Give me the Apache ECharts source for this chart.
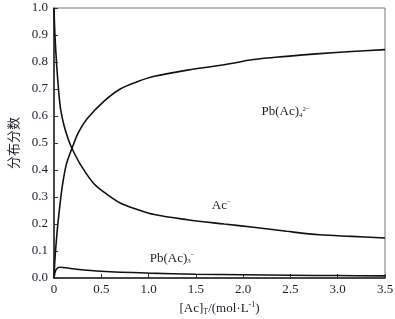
<!DOCTYPE html>
<html><head><meta charset="utf-8">
<script src="https://cdn.jsdelivr.net/npm/echarts@6/dist/echarts.min.js"></script>
<style>html,body{margin:0;padding:0;background:#fff}#c{width:395px;height:319px}</style>
</head><body><div id="c"></div>
<script>
const xTicks = [0, 0.5, 1.0, 1.5, 2.0, 2.5, 3.0, 3.5];
const yTicks = [0, 0.1, 0.2, 0.3, 0.4, 0.5, 0.6, 0.7, 0.8, 0.9, 1.0];
const acX = [0, 0.01, 0.028, 0.05, 0.07, 0.106, 0.15, 0.19, 0.28, 0.42, 0.56, 0.70, 0.88, 1.06, 1.41, 1.80, 2.11, 2.46, 2.81, 3.15, 3.5];
const acY = [1.0, 0.90, 0.79, 0.69, 0.625, 0.565, 0.515, 0.48, 0.42, 0.35, 0.31, 0.278, 0.254, 0.235, 0.216, 0.200, 0.188, 0.173, 0.160, 0.154, 0.148];
const pb4X = [0, 0.01, 0.03, 0.053, 0.088, 0.13, 0.19, 0.26, 0.35, 0.53, 0.70, 0.88, 1.06, 1.41, 1.80, 2.11, 2.46, 2.81, 3.15, 3.5];
const pb4Y = [0, 0.07, 0.16, 0.24, 0.34, 0.42, 0.48, 0.54, 0.59, 0.655, 0.70, 0.727, 0.747, 0.77, 0.79, 0.809, 0.821, 0.831, 0.839, 0.846];
const pb3X = [0, 0.02, 0.06, 0.2, 0.5, 1.0, 1.5, 2.0, 2.5, 3.0, 3.5];
const pb3Y = [0, 0.03, 0.04, 0.034, 0.025, 0.018, 0.014, 0.012, 0.010, 0.009, 0.008];

const zip = (a, b) => a.map((v, i) => [v, b[i]]);
const serif = '"Liberation Serif","DejaVu Serif",serif';
const txt = '#1c1c2c';
const rich = {
  b: {fontFamily: serif, fontSize: 13, color: txt},
  sub: {fontFamily: serif, fontSize: 7, color: txt, verticalAlign: 'bottom', padding: [6, 0, 0, 0]},
  sup: {fontFamily: serif, fontSize: 7, color: txt, verticalAlign: 'top', padding: [0, 0, 6, 0]}
};
function lbl(x, y, text) {
  return {coord: [x, y], symbol: 'circle', symbolSize: 1, itemStyle: {color: 'rgba(0,0,0,0)'},
    label: {show: true, position: 'inside', formatter: text, rich: rich}};
}
const lineStyle = {color: '#111', width: 1.6};
const chart = echarts.init(document.getElementById('c'));
chart.setOption({
  animation: false,
  grid: {left: 54, right: 10, top: 8, bottom: 41, show: true, borderColor: '#777', borderWidth: 1,
    containLabel: false, outerBoundsMode: 'none'},
  xAxis: {
    type: 'value', min: 0, max: 3.5, interval: 0.5,
    axisLine: {show: true, lineStyle: {color: '#222', width: 1.5}},
    axisTick: {show: true, inside: true, length: 4, lineStyle: {color: '#333'}},
    splitLine: {show: false},
    axisLabel: {fontFamily: serif, fontSize: 13, color: txt, margin: 5,
      formatter: v => v === 0 ? '0' : v.toFixed(1)},
    name: '{b|[Ac]}{sub|T}{b|/(mol·L}{sup|-1}{b|)}',
    nameLocation: 'middle', nameGap: 22,
    nameTextStyle: {rich: {
      b: {fontFamily: serif, fontSize: 13, color: txt},
      sub: {fontFamily: serif, fontSize: 8, color: txt, verticalAlign: 'bottom', padding: [7, 0, 0, 0]},
      sup: {fontFamily: serif, fontSize: 8, color: txt, verticalAlign: 'top', padding: [0, 0, 7, 0]}
    }}
  },
  yAxis: {
    type: 'value', min: 0, max: 1.0, interval: 0.1,
    axisLine: {show: true, lineStyle: {color: '#222', width: 1.5}},
    axisTick: {show: true, inside: true, length: 4, lineStyle: {color: '#333'}},
    splitLine: {show: false},
    axisLabel: {fontFamily: serif, fontSize: 13, color: txt, margin: 6, formatter: v => v.toFixed(1)},
    name: '分布分数', nameLocation: 'middle', nameGap: 34,
    nameTextStyle: {fontFamily: '"Noto Sans CJK SC"', fontSize: 13, color: txt}
  },
  series: [
    {type: 'line', data: zip(acX, acY), smooth: 0.35, showSymbol: false, lineStyle: lineStyle,
     markPoint: {data: [lbl(1.77, 0.268, '{b|Ac}{sup|−}')]}},
    {type: 'line', data: zip(pb4X, pb4Y), smooth: 0.35, showSymbol: false, lineStyle: lineStyle,
     markPoint: {data: [lbl(2.45, 0.615, '{b|Pb(Ac)}{sub|4}{sup|2−}')]}},
    {type: 'line', data: zip(pb3X, pb3Y), smooth: 0.35, showSymbol: false, lineStyle: lineStyle,
     markPoint: {data: [lbl(1.25, 0.073, '{b|Pb(Ac)}{sub|3}{sup|−}')]}}
  ]
});
</script></body></html>
